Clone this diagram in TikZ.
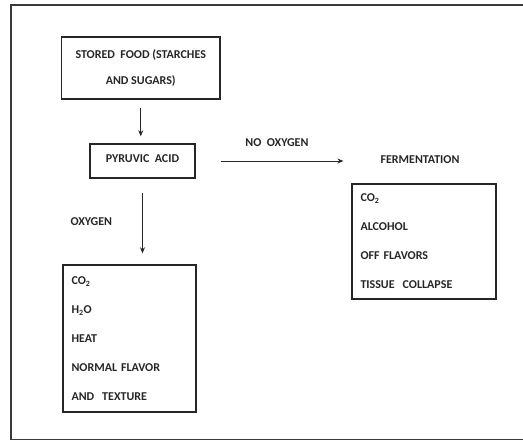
\documentclass[tikz,border=0pt]{standalone}
\usepackage{fontspec}
\setmainfont{Carlito}
\usetikzlibrary{arrows.meta,positioning}
\definecolor{Ink}{HTML}{262626}
\definecolor{Frame}{HTML}{3A3A3A}
\tikzset{
stagebox/.style={draw=Ink, line width=1.4pt, align=center, inner sep=0pt},
listbox/.style={draw=Ink, line width=1.4pt, align=left, inner xsep=8.5pt, inner ysep=0pt, font=\bfseries\fontsize{12}{29}\selectfont},
flowarrow/.style={-{Stealth[length=6pt,width=5pt]}, line width=0.9pt, draw=Ink},
flowlabel/.style={inner sep=0pt, text=Ink}
}
\begin{document}
\begin{tikzpicture}[x=1pt, y=-1pt, font=\bfseries\fontsize{12}{14}\selectfont, text=Ink]
  \useasboundingbox (0,0) rectangle (523,441);
  \draw[Frame, line width=1.3pt] (523,5) -- (11,5) -- (11,439.5) -- (523,439.5);
  \node[stagebox, minimum width=158.5pt, minimum height=62pt, font=\bfseries\fontsize{12}{26}\selectfont] (food) at (140.75,68) {STORED\ \ FOOD (STARCHES\\AND SUGARS)};
  \node[stagebox, minimum width=105pt, minimum height=34pt] (pyruvic) at (142.5,161) {\raisebox{4pt}{PYRUVIC\ \ ACID}};
  \node[flowlabel] (fermlabel) at (420,160) {FERMENTATION};
  \node[listbox, text width=127pt, minimum height=115pt] (fermbox) at (424,241.5) {CO\textsubscript{2}\\ALCOHOL\\OFF FLAVORS\\TISSUE\ \ COLLAPSE};
  \node[listbox, text width=116pt, minimum height=147pt] (oxybox) at (129.5,338.5) {CO\textsubscript{2}\\H\textsubscript{2}O\\HEAT\\NORMAL FLAVOR\\AND\ \ TEXTURE};
  \draw[flowarrow, shorten <=8pt, shorten >=7pt] (food.south) -- (food.south |- pyruvic.north);
  \draw[flowarrow, shorten <=25pt, shorten >=37pt] (pyruvic.east) -- node[flowlabel, pos=0.44, above=14pt] (nolabel) {NO\ \ OXYGEN} (pyruvic.east -| fermlabel.west);
  \draw[flowarrow, shorten <=14pt, shorten >=11pt] (pyruvic.south) -- node[flowlabel, midway, left=30pt] (oxylabel) {OXYGEN} (pyruvic.south |- oxybox.north);
\end{tikzpicture}
\end{document}
